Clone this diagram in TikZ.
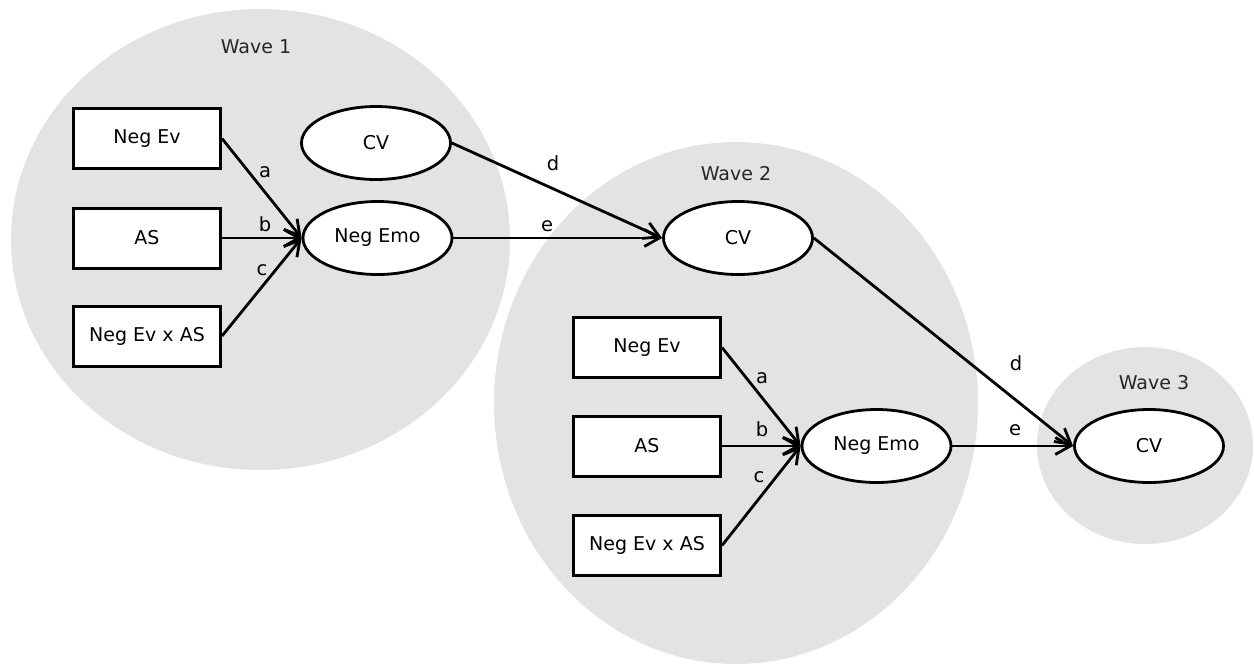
\documentclass[tikz,border=0pt]{standalone}
\usepackage{fontspec}
\setmainfont{DejaVu Sans}
\usetikzlibrary{arrows.meta,shapes.geometric}
\definecolor{wavegray}{RGB}{227,227,227}
\begin{document}
\begin{tikzpicture}[x=1pt,y=-1pt,
  every node/.style={font=\fontsize{19}{23}\selectfont},
  box/.style={draw, fill=white, line width=3pt, minimum width=147pt, minimum height=60pt, inner sep=0pt},
  oval/.style={draw, fill=white, ellipse, line width=2.8pt, minimum width=149pt, minimum height=73pt, inner sep=0pt},
  wave/.style={fill=wavegray, draw=none, ellipse, inner sep=0pt},
  conn/.style={line width=2.8pt, -{Straight Barb[length=15pt,width=17pt,line width=2.8pt]}},
  lbl/.style={inner sep=0pt, font=\fontsize{19.5}{23}\selectfont},
  wlbl/.style={text=black!85, inner sep=0pt}
]
\useasboundingbox (0,0) rectangle (1254,665);

% wave backgrounds
\node[wave, minimum width=499pt, minimum height=461pt] (w1) at (260.5,239.5) {};
\node[wave, minimum width=484pt, minimum height=522pt] (w2) at (736,403) {};
\node[wave, minimum width=216pt, minimum height=197pt] (w3) at (1145,445.5) {};

\node[wlbl] (w1l) at (256,47) {Wave 1};
\node[wlbl] (w2l) at (736,174) {Wave 2};
\node[wlbl] (w3l) at (1154,383) {Wave 3};

% wave 1
\node[box] (ne1) at (147,138.5) {Neg Ev};
\node[box] (as1) at (147,238) {AS};
\node[box] (nx1) at (147,336) {Neg Ev x AS};
\node[oval] (cv1) at (376,143) {CV};
\node[oval] (emo1) at (377.5,238) {Neg Emo};

% wave 2
\node[oval] (cv2) at (738,238) {CV};
\node[box] (ne2) at (647,347.5) {Neg Ev};
\node[box] (as2) at (647,446) {AS};
\node[box] (nx2) at (647,545.5) {Neg Ev x AS};
\node[oval] (emo2) at (876.5,446) {Neg Emo};

% wave 3
\node[oval] (cv3) at (1149,446) {CV};

% connectors
\draw[conn] (ne1.east) -- (emo1.west);
\draw[conn] (as1.east) -- (emo1.west);
\draw[conn] (nx1.east) -- (emo1.west);
\draw[conn] (cv1.east) -- (cv2.west);
\draw[conn] (emo1.east) -- (cv2.west);
\draw[conn] (ne2.east) -- (emo2.west);
\draw[conn] (as2.east) -- (emo2.west);
\draw[conn] (nx2.east) -- (emo2.west);
\draw[conn] (cv2.east) -- (cv3.west);
\draw[conn] (emo2.east) -- (cv3.west);

% path labels
\node[lbl] (la1) at (265,172) {a};
\node[lbl] (lb1) at (265,224) {b};
\node[lbl] (lc1) at (262,270) {c};
\node[lbl] (ld1) at (553,163) {d};
\node[lbl] (le1) at (547,226) {e};
\node[lbl] (la2) at (762,378) {a};
\node[lbl] (lb2) at (762,429) {b};
\node[lbl] (lc2) at (759,477) {c};
\node[lbl] (ld2) at (1016,363) {d};
\node[lbl] (le2) at (1015,430) {e};
\end{tikzpicture}
\end{document}
